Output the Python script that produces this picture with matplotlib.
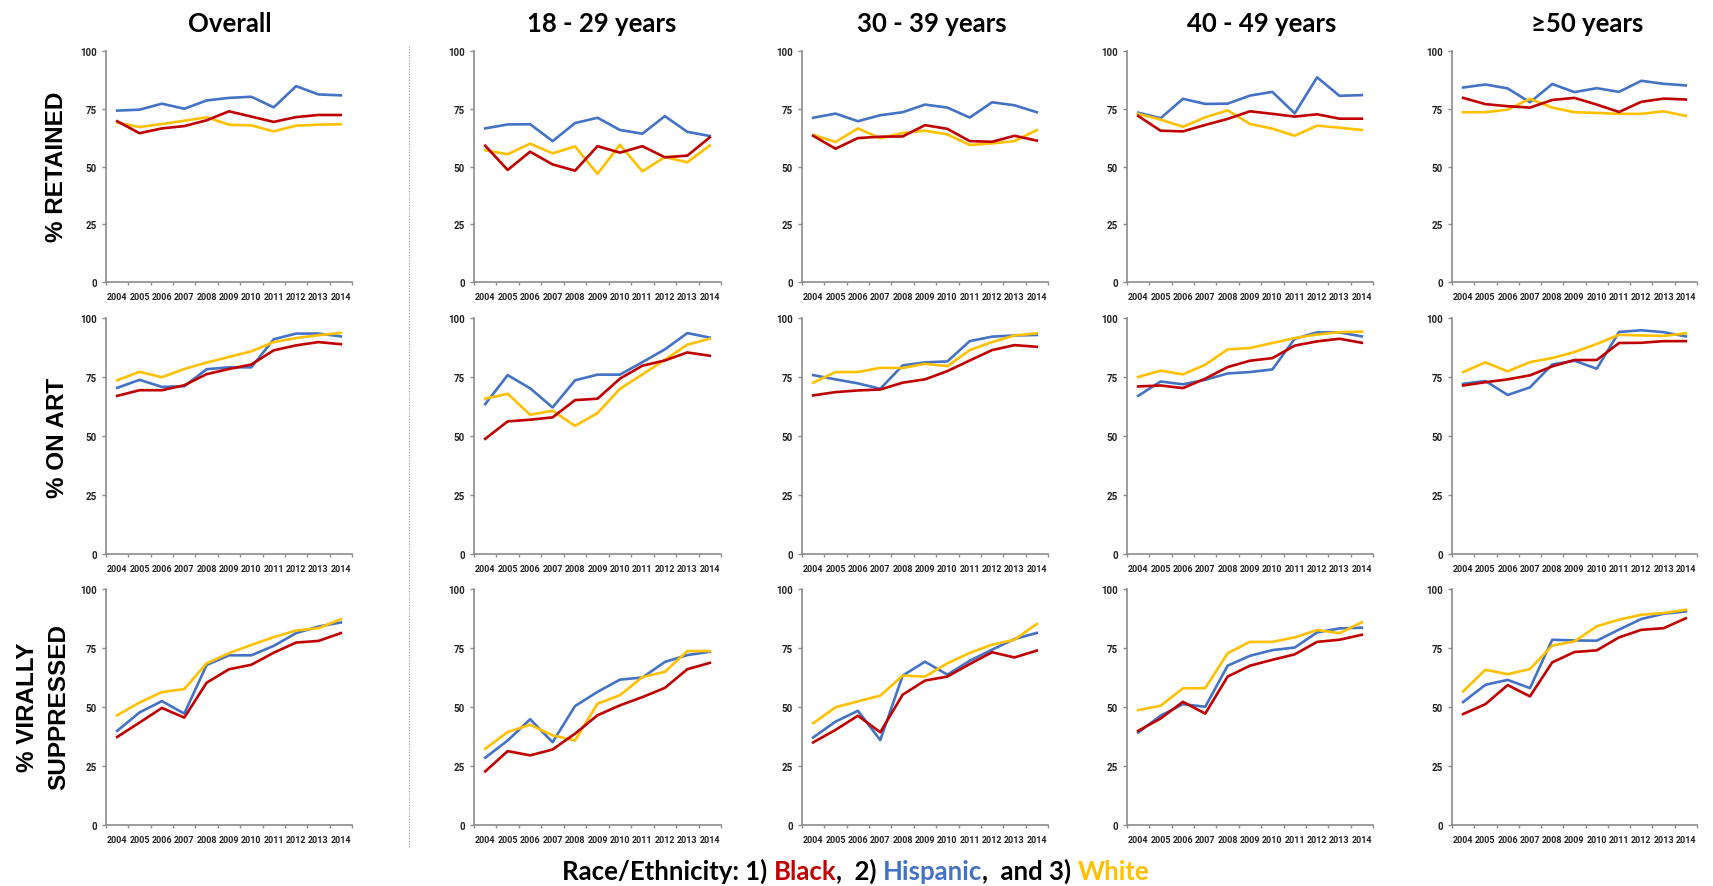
import matplotlib.pyplot as plt
import numpy as np

# categories
years = [str(y) for y in range(2004, 2015)]
groups = ["Overall", "18 - 29 years", "30 - 39 years", "40 - 49 years", "\u226550 years"]
measures = ["% RETAINED", "% ON ART", "% VIRALLY\nSUPPRESSED"]

# % retained: one row per age group (Overall, 18-29, 30-39, 40-49, >=50)
retained_black = [
    [69.6, 64.4, 66.5, 67.5, 70.0, 73.9, 71.6, 69.3, 71.4, 72.3, 72.3],
    [59.0, 48.5, 56.4, 50.9, 48.2, 58.8, 56.0, 58.8, 54.0, 54.7, 62.6],
    [63.3, 57.7, 62.3, 62.9, 63.0, 67.9, 66.3, 61.0, 60.7, 63.3, 61.2],
    [71.9, 65.5, 65.2, 68.0, 70.6, 73.9, 72.8, 71.6, 72.6, 70.7, 70.7],
    [79.7, 77.0, 76.1, 75.5, 78.8, 79.7, 76.8, 73.6, 78.0, 79.4, 79.0],
]
retained_hispanic = [
    [74.2, 74.6, 77.2, 75.0, 78.6, 79.7, 80.2, 75.6, 84.8, 81.2, 80.8],
    [66.5, 68.2, 68.3, 61.0, 68.8, 71.1, 65.8, 64.2, 71.8, 65.0, 63.2],
    [71.1, 72.9, 69.6, 72.2, 73.5, 76.8, 75.5, 71.2, 77.8, 76.5, 73.5],
    [73.3, 70.9, 79.3, 77.1, 77.2, 80.7, 82.3, 73.0, 88.6, 80.6, 80.9],
    [84.2, 85.5, 83.8, 77.8, 85.7, 82.2, 83.9, 82.3, 87.1, 85.8, 85.1],
]
retained_white = [
    [69.0, 67.1, 68.4, 69.8, 71.3, 68.1, 67.8, 65.2, 67.7, 68.1, 68.3],
    [57.0, 55.3, 59.9, 55.7, 58.7, 46.8, 59.4, 47.9, 54.1, 51.8, 59.1],
    [63.7, 60.6, 66.5, 62.2, 64.5, 65.5, 63.9, 59.3, 60.0, 61.0, 65.8],
    [72.8, 70.3, 67.2, 71.3, 74.3, 68.4, 66.4, 63.3, 67.7, 66.8, 65.8],
    [73.5, 73.5, 74.6, 79.3, 75.5, 73.5, 73.2, 72.8, 72.8, 73.9, 71.9],
]

# % on ART
art_black = [
    [67.0, 69.4, 69.4, 71.5, 76.2, 78.4, 80.3, 86.3, 88.4, 89.8, 88.9],
    [48.8, 56.2, 56.9, 57.9, 65.2, 65.8, 74.3, 79.8, 82.0, 85.4, 84.0],
    [67.2, 68.6, 69.3, 69.7, 72.6, 74.0, 77.5, 82.0, 86.4, 88.5, 87.8],
    [71.0, 71.4, 70.3, 74.3, 79.2, 81.9, 83.0, 88.3, 90.1, 91.2, 89.5],
    [71.4, 72.8, 74.0, 75.7, 79.5, 82.2, 82.2, 89.4, 89.5, 90.2, 90.2],
]
art_hispanic = [
    [70.4, 73.8, 70.8, 71.1, 78.3, 79.1, 79.1, 91.0, 93.4, 93.4, 92.2],
    [63.5, 75.8, 70.2, 62.1, 73.6, 76.0, 76.0, 81.3, 86.7, 93.6, 91.7],
    [75.8, 74.0, 72.3, 70.0, 79.9, 81.2, 81.6, 90.2, 92.1, 92.6, 92.8],
    [67.0, 73.1, 71.9, 73.8, 76.5, 77.1, 78.2, 91.2, 93.9, 93.9, 92.2],
    [72.1, 73.3, 67.4, 70.6, 80.3, 81.9, 78.5, 94.1, 94.8, 94.0, 92.2],
]
art_white = [
    [73.6, 77.2, 74.9, 78.4, 81.1, 83.5, 85.9, 89.8, 91.5, 92.7, 93.7],
    [65.8, 67.9, 59.0, 60.7, 54.3, 59.7, 70.0, 76.1, 82.3, 88.7, 91.2],
    [72.6, 77.1, 77.1, 78.9, 78.8, 80.6, 79.6, 86.4, 89.8, 92.6, 93.5],
    [75.0, 77.7, 76.1, 80.2, 86.7, 87.3, 89.4, 91.5, 93.0, 94.0, 94.2],
    [77.1, 81.2, 77.4, 81.3, 83.0, 85.6, 89.0, 92.9, 92.6, 92.4, 93.5],
]

# % virally suppressed
vs_black = [
    [37.3, 43.4, 49.6, 45.5, 60.3, 66.0, 67.9, 73.0, 77.3, 78.0, 81.3],
    [22.7, 31.3, 29.5, 32.0, 38.7, 46.5, 50.7, 54.2, 58.1, 66.0, 68.7],
    [35.0, 40.3, 46.3, 39.3, 55.2, 61.2, 62.9, 68.2, 73.2, 71.0, 73.9],
    [39.9, 45.1, 52.2, 47.2, 62.9, 67.5, 70.0, 72.3, 77.6, 78.5, 80.6],
    [47.0, 51.2, 59.3, 54.5, 68.9, 73.3, 74.0, 79.5, 82.7, 83.4, 87.6],
]
vs_hispanic = [
    [39.9, 47.7, 52.5, 47.2, 67.8, 71.9, 71.9, 75.9, 81.3, 84.1, 85.8],
    [28.5, 35.8, 44.8, 35.1, 50.4, 56.4, 61.6, 62.5, 69.1, 72.0, 73.4],
    [37.1, 43.8, 48.4, 36.0, 63.3, 69.2, 63.7, 69.6, 74.3, 78.8, 81.4],
    [39.2, 46.3, 51.2, 50.1, 67.5, 71.7, 74.1, 75.2, 81.6, 83.3, 83.6],
    [52.1, 59.4, 61.5, 58.0, 78.5, 78.2, 78.1, 82.8, 87.3, 89.5, 90.5],
]
vs_white = [
    [46.5, 51.9, 56.3, 57.6, 68.5, 72.8, 76.3, 79.6, 82.4, 83.4, 87.2],
    [32.3, 39.4, 42.5, 38.0, 35.8, 51.4, 55.0, 62.7, 64.9, 73.7, 73.7],
    [43.1, 49.9, 52.4, 54.8, 63.3, 62.9, 68.5, 72.9, 76.4, 78.5, 85.2],
    [48.7, 50.5, 57.9, 58.0, 72.8, 77.6, 77.6, 79.5, 82.6, 81.3, 85.9],
    [56.6, 65.8, 63.9, 66.1, 76.0, 77.8, 84.2, 87.0, 89.1, 89.8, 91.2],
]

RED, BLUE, YELLOW = "#C00000", "#4472C4", "#FFC000"
GRAY = "#8c8c8c"

rows = [
    (retained_hispanic, retained_white, retained_black),
    (art_hispanic, art_white, art_black),
    (vs_hispanic, vs_white, vs_black),
]

# panel layout in pixels
W, H = 1713, 887
col_px = [(106, 352), (474, 721), (802, 1048), (1127, 1373), (1452, 1697)]
row_px = [(52, 283), (319, 555), (590, 826)]
title_x = [230, 602, 932, 1262, 1587]
label_y = [167, 438, 707]

fig = plt.figure(figsize=(W / 100, H / 100), dpi=100)
bg = fig.add_axes([0, 0, 1, 1])
bg.set_axis_off()
bg.set_xlim(0, W)
bg.set_ylim(H, 0)

# dotted separator between "Overall" and the age groups
bg.plot([409, 409], [47, 850], color="#9a9a9a", lw=0.8, ls=(0, (1, 1.5)))

tick_font = ["Roboto", "DejaVu Sans"]
x = np.arange(len(years)) + 0.5
for r, series in enumerate(rows):
    y0, y1 = row_px[r]
    for c in range(len(groups)):
        x0, x1 = col_px[c]
        ax = fig.add_axes([x0 / W, 1 - y1 / H, (x1 - x0) / W, (y1 - y0) / H])
        for vals, col in zip(series, [BLUE, YELLOW, RED]):
            ax.plot(x, vals[c], color=col, lw=1.9)
        ax.set_xlim(0, len(years))
        ax.set_ylim(0, 100)
        ax.set_yticks([0, 25, 50, 75, 100])
        ax.set_xticks(np.arange(len(years) + 1))
        ax.set_xticklabels([])
        ax.set_xticks(x, minor=True)
        ax.set_xticklabels(years, minor=True, fontsize=6.5, fontweight="bold",
                           family=tick_font, color="#222222")
        for lab in ax.get_yticklabels():
            lab.set_fontsize(7)
            lab.set_fontweight("bold")
            lab.set_family(tick_font)
            lab.set_color("#222222")
        ax.tick_params(axis="x", which="minor", length=0, pad=7)
        ax.tick_params(axis="x", which="major", length=2.5, width=1, color=GRAY)
        ax.tick_params(axis="y", length=3, width=1, color=GRAY, pad=3.5)
        for s in ["top", "right"]:
            ax.spines[s].set_visible(False)
        for s in ["left", "bottom"]:
            ax.spines[s].set_color(GRAY)
            ax.spines[s].set_linewidth(1.2)
        ax.patch.set_alpha(0)

for c, g in enumerate(groups):
    bg.text(title_x[c], 32, g, ha="center", va="baseline", fontsize=18.5, fontweight="bold",
            family=["Lato", "DejaVu Sans"])

for r, m in enumerate(measures):
    bg.text(43 if "\n" in m else 57, label_y[r], m, rotation=90, ha="center", va="center",
            fontsize=17.5, fontweight="bold", family=["Liberation Sans", "DejaVu Sans"],
            linespacing=1.45, multialignment="center")

# multicoloured legend line
pieces = [("Race/Ethnicity: 1) ", "black"), ("Black", RED), (",  2) ", "black"),
          ("Hispanic", BLUE), (",  and 3) ", "black"), ("White", YELLOW)]
kw = dict(fontsize=18.5, fontweight="bold", family=["Lato", "DejaVu Sans"])
t = bg.text(562, 880, pieces[0][0], color=pieces[0][1], ha="left", va="baseline", **kw)
for s, col in pieces[1:]:
    t = bg.annotate(s, xy=(1, 0), xycoords=t, ha="left", va="bottom", color=col, **kw)

fig.savefig("out.png", dpi=100)
